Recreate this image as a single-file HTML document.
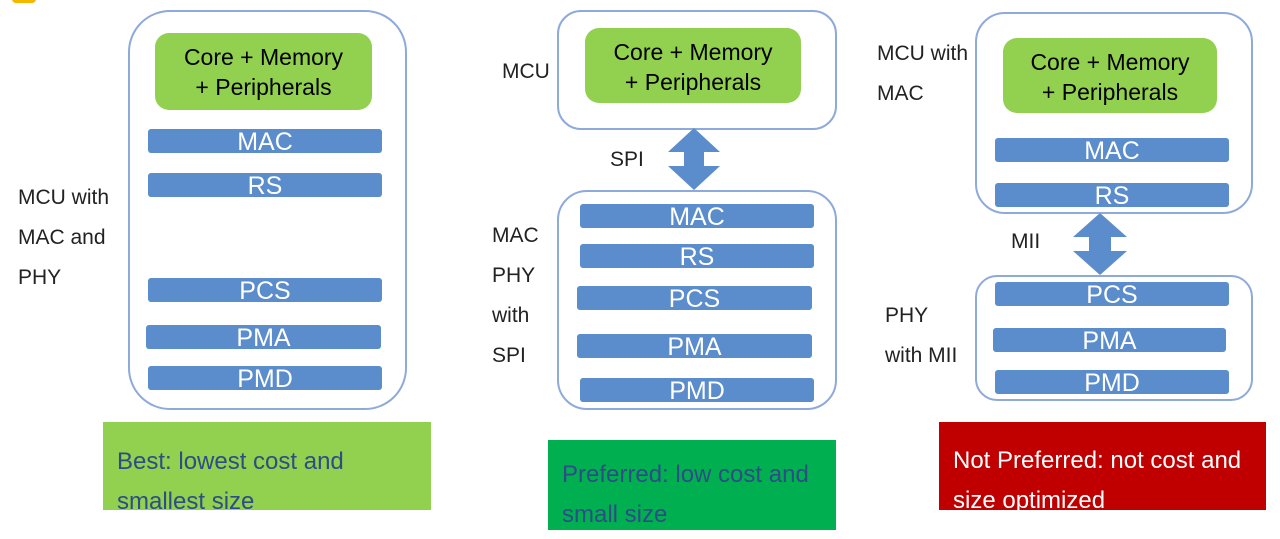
<!DOCTYPE html>
<html><head><style>
body{margin:0;width:1280px;height:539px;background:#fff;position:relative;overflow:hidden;font-family:"Liberation Sans",sans-serif}
div{position:absolute;box-sizing:border-box}
.ob{border:2px solid #8eaadb;border-radius:38px;background:#fff}
.g{background:#92d050;border-radius:14px;color:#000;font-size:23px;text-align:center;line-height:30px;padding-top:9px}
.b{background:#5b8ccb;border-radius:3px;color:#fff;font-size:25px;text-align:center;line-height:26px;height:24px;overflow:visible}
.l{font-family:"Liberation Sans Narrow","Liberation Sans",sans-serif;font-size:21px;color:#222;line-height:40px}
.c{font-family:"Liberation Sans Narrow","Liberation Sans",sans-serif;font-size:24px;line-height:40px;padding:19px 0 0 14px}
</style></head><body>
<div style="left:12px;top:-8px;width:24px;height:11px;background:#f5b800;border-radius:4px"></div>

<!-- left -->
<div class="ob" style="left:128px;top:10px;width:279px;height:400px;border-radius:42px"></div>
<div class="g" style="left:155px;top:33px;width:217px;height:77px">Core + Memory<br>+ Peripherals</div>
<div class="b" style="left:148px;top:129px;width:234px">MAC</div>
<div class="b" style="left:148px;top:173px;width:234px">RS</div>
<div class="b" style="left:148px;top:278px;width:234px">PCS</div>
<div class="b" style="left:146px;top:325px;width:235px">PMA</div>
<div class="b" style="left:148px;top:366px;width:234px">PMD</div>
<div class="l" style="left:18px;top:178px">MCU with<br>MAC and<br>PHY</div>
<div class="c" style="left:103px;top:422px;width:328px;height:88px;background:#92d050;color:#2e4c86;padding-top:20px">Best: lowest cost and<br>smallest size</div>

<!-- middle -->
<div class="ob" style="left:557px;top:10px;width:280px;height:120px;border-radius:24px"></div>
<div class="g" style="left:585px;top:28px;width:216px;height:75px">Core + Memory<br>+ Peripherals</div>
<div class="l" style="left:502px;top:52px">MCU</div>
<svg style="position:absolute;left:668px;top:128px" width="52" height="62"><polygon points="26,0 52,24 36,24 36,38 52,38 26,62 0,38 16,38 16,24 0,24" fill="#5b8ccb"/></svg>
<div class="l" style="left:610px;top:140px">SPI</div>
<div class="ob" style="left:557px;top:190px;width:280px;height:220px;border-radius:30px"></div>
<div class="b" style="left:580px;top:204px;width:234px">MAC</div>
<div class="b" style="left:580px;top:244px;width:234px">RS</div>
<div class="b" style="left:577px;top:286px;width:235px">PCS</div>
<div class="b" style="left:577px;top:334px;width:235px">PMA</div>
<div class="b" style="left:580px;top:378px;width:234px">PMD</div>
<div class="l" style="left:492px;top:216px">MAC<br>PHY<br>with<br>SPI</div>
<div class="c" style="left:548px;top:440px;width:288px;height:90px;background:#00b050;color:#2e4c86;padding-top:15px">Preferred: low cost and<br>small size</div>

<!-- right -->
<div class="ob" style="left:975px;top:12px;width:278px;height:202px;border-radius:30px"></div>
<div class="g" style="left:1003px;top:38px;width:214px;height:75px">Core + Memory<br>+ Peripherals</div>
<div class="b" style="left:995px;top:138px;width:234px">MAC</div>
<div class="b" style="left:995px;top:183px;width:234px">RS</div>
<div class="l" style="left:877px;top:34px">MCU with<br>MAC</div>
<svg style="position:absolute;left:1073px;top:213px" width="54" height="62"><polygon points="27,0 54,24 38,24 38,38 54,38 27,62 0,38 16,38 16,24 0,24" fill="#5b8ccb"/></svg>
<div class="l" style="left:1011px;top:222px">MII</div>
<div class="ob" style="left:975px;top:275px;width:278px;height:126px;border-radius:22px"></div>
<div class="b" style="left:995px;top:282px;width:234px">PCS</div>
<div class="b" style="left:993px;top:328px;width:233px">PMA</div>
<div class="b" style="left:995px;top:370px;width:234px">PMD</div>
<div class="l" style="left:885px;top:296px">PHY<br>with MII</div>
<div class="c" style="left:939px;top:422px;width:327px;height:88px;background:#c00000;color:#fff">Not Preferred: not cost and<br>size optimized</div>
</body></html>
